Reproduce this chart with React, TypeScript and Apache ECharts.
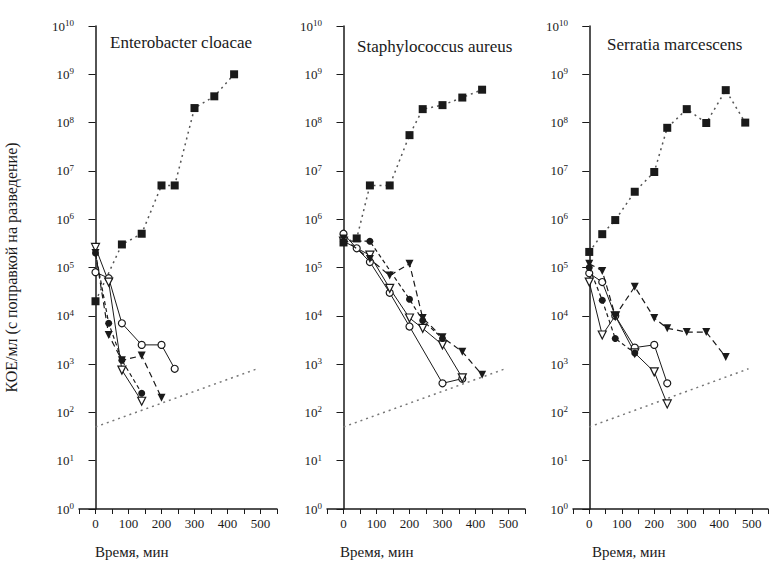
import React, { useEffect, useRef } from 'react';
import * as echarts from 'echarts';

// ---- texts ----
const panelTitles = ['Enterobacter cloacae', 'Staphylococcus aureus', 'Serratia marcescens'];
const xAxisTitle = 'Время, мин';
const yAxisTitle = 'КОЕ/мл (с поправкой на разведение)';
const xTickLabels = [0, 100, 200, 300, 400, 500];

// ---- Enterobacter cloacae ----
const ecControl = [[0, 2e4], [80, 3e5], [140, 5e5], [200, 5e6], [240, 5e6], [300, 2e8], [360, 3.5e8], [420, 1e9]];
const ecOpenCircle = [[0, 8e4], [40, 6e4], [80, 7e3], [140, 2.5e3], [200, 2.5e3], [240, 8e2]];
const ecOpenTriangle = [[0, 2.6e5], [40, 5e4], [80, 7.5e2], [140, 1.7e2]];
const ecFilledCircle = [[0, 2e5], [40, 7e3], [80, 1.2e3], [140, 2.5e2]];
const ecFilledTriangle = [[0, 2e5], [40, 4e3], [80, 1.2e3], [140, 1.5e3], [200, 2e2]];

// ---- Staphylococcus aureus ----
const saControl = [[0, 3.3e5], [40, 4e5], [80, 5e6], [140, 5e6], [200, 5.5e7], [240, 1.9e8], [300, 2.3e8], [360, 3.3e8], [420, 4.8e8]];
const saOpenCircle = [[0, 5e5], [40, 2.5e5], [80, 1.3e5], [140, 3e4], [200, 6e3], [300, 4e2], [360, 5e2]];
const saOpenTriangle = [[0, 3.5e5], [80, 1.8e5], [140, 3.7e4], [200, 9e3], [240, 5.5e3], [300, 2.5e3], [360, 5.2e2]];
const saFilledCircle = [[0, 3.5e5], [80, 3.5e5], [200, 2.2e4], [240, 8e3], [300, 3.4e3]];
const saFilledTriangle = [[0, 4e5], [80, 1.5e5], [140, 6.8e4], [200, 1.2e5], [240, 9e3], [300, 3.6e3], [360, 1.8e3], [420, 6e2]];

// ---- Serratia marcescens ----
const smControl = [[0, 2.1e5], [40, 4.9e5], [80, 9.6e5], [140, 3.7e6], [200, 9.5e6], [240, 7.8e7], [300, 1.9e8], [360, 9.8e7], [420, 4.7e8], [480, 1e8]];
const smOpenCircle = [[0, 7.6e4], [40, 5e4], [80, 1e4], [140, 2.2e3], [200, 2.5e3], [240, 4e2]];
const smOpenTriangle = [[0, 5e4], [40, 4e3], [80, 1e4], [140, 1.7e3], [200, 6.9e2], [240, 1.5e2]];
const smFilledCircle = [[0, 1e5], [40, 2.1e4], [80, 3.4e3], [140, 1.7e3]];
const smFilledTriangle = [[0, 1.2e5], [40, 8.5e4], [80, 1e4], [140, 4e4], [200, 9e3], [240, 5.5e3], [300, 4.6e3], [360, 4.6e3], [420, 1.4e3]];

// ---- detection limit ----
const limitLine = [[0, 50], [490, 800]];

const panels = [
  { control: ecControl, oc: ecOpenCircle, ot: ecOpenTriangle, fc: ecFilledCircle, ft: ecFilledTriangle },
  { control: saControl, oc: saOpenCircle, ot: saOpenTriangle, fc: saFilledCircle, ft: saFilledTriangle },
  { control: smControl, oc: smOpenCircle, ot: smOpenTriangle, fc: smFilledCircle, ft: smFilledTriangle },
];

const gridLefts = [79, 327, 573];
const titlePos = [[110, 34], [357, 38], [607, 36]];
const xNamePos = [[95, 544], [340, 544], [592, 544]];
const FONT = '"Liberation Serif", "DejaVu Serif", serif';
const INK = '#1a1a1a';

export default function App() {
  const ref = useRef<HTMLDivElement>(null);
  useEffect(() => {
    if (!ref.current) return;
    const chart = echarts.init(ref.current, null, { renderer: 'svg' });

    const grids: any[] = [];
    const xAxes: any[] = [];
    const yAxes: any[] = [];
    const series: any[] = [];
    const graphics: any[] = [];

    panels.forEach((p, i) => {
      grids.push({ left: gridLefts[i], top: 26, width: 198, height: 483 });
      xAxes.push({
        gridIndex: i, type: 'value', min: -50, max: 550, interval: 50,
        axisLine: { lineStyle: { color: INK, width: 1.5 } },
        axisTick: { length: 5, lineStyle: { color: INK, width: 1 } },
        axisLabel: {
          color: INK, fontFamily: FONT, fontSize: 13, margin: 8,
          formatter: (v: number) => (xTickLabels.indexOf(v) >= 0 ? String(v) : ''),
        },
        splitLine: { show: false },
      });
      yAxes.push({
        gridIndex: i, type: 'log', logBase: 10, min: 1, max: 1e10, interval: 1,
        axisLine: { lineStyle: { color: INK, width: 1.5 } },
        axisTick: { length: 7, lineStyle: { color: INK, width: 1 } },
        axisLabel: {
          color: INK, fontFamily: FONT, margin: 5,
          formatter: (v: number) => `{b|10}{s|${Math.round(Math.log10(v))}}`,
          rich: {
            b: { fontFamily: FONT, fontSize: 13, lineHeight: 15, color: INK },
            s: { fontFamily: FONT, fontSize: 9, lineHeight: 9, verticalAlign: 'top', color: INK },
          },
        },
        splitLine: { show: false },
        name: i === 0 ? yAxisTitle : '',
        nameLocation: 'middle', nameGap: 60, nameRotate: 90,
        nameTextStyle: { fontFamily: FONT, fontSize: 16, color: INK },
      });

      const base = { type: 'line', xAxisIndex: i, yAxisIndex: i, showAllSymbol: true, animation: false };
      series.push({
        ...base, name: 'limit' + i, data: limitLine, symbol: 'none',
        lineStyle: { color: '#777', width: 1.5, type: [2, 4] }, z: 1,
      });
      series.push({
        ...base, name: 'control' + i, data: p.control, symbol: 'rect', symbolSize: 8,
        itemStyle: { color: INK }, lineStyle: { color: '#555', width: 1.5, type: [2, 4] }, z: 3,
      });
      series.push({
        ...base, name: 'oc' + i, data: p.oc, symbol: 'circle', symbolSize: 7,
        itemStyle: { color: '#fff', borderColor: INK, borderWidth: 1.2 },
        lineStyle: { color: INK, width: 1, type: 'solid' }, z: 4,
      });
      series.push({
        ...base, name: 'ot' + i, data: p.ot, symbol: 'triangle', symbolRotate: 180, symbolSize: 8,
        itemStyle: { color: '#fff', borderColor: INK, borderWidth: 1.2 },
        lineStyle: { color: INK, width: 1, type: 'solid' }, z: 4,
      });
      series.push({
        ...base, name: 'ft' + i, data: p.ft, symbol: 'triangle', symbolRotate: 180, symbolSize: 8,
        itemStyle: { color: INK },
        lineStyle: { color: INK, width: 1.2, type: [6, 4] }, z: 5,
      });
      series.push({
        ...base, name: 'fc' + i, data: p.fc, symbol: 'circle', symbolSize: 7,
        itemStyle: { color: INK },
        lineStyle: { color: INK, width: 1.2, type: [4, 3] }, z: 5,
      });

      graphics.push({
        type: 'text', x: titlePos[i][0], y: titlePos[i][1],
        style: { text: panelTitles[i], fontFamily: FONT, fontSize: 17, fill: INK },
      });
      graphics.push({
        type: 'text', x: xNamePos[i][0], y: xNamePos[i][1],
        style: { text: xAxisTitle, fontFamily: FONT, fontSize: 15, fill: INK },
      });
    });

    chart.setOption({
      animation: false,
      backgroundColor: '#fff',
      grid: grids,
      xAxis: xAxes,
      yAxis: yAxes,
      series,
      graphic: graphics,
    });
    return () => chart.dispose();
  }, []);
  return <div ref={ref} style={{ position: 'fixed', left: 0, top: 0, width: 771, height: 564 }} />;
}
